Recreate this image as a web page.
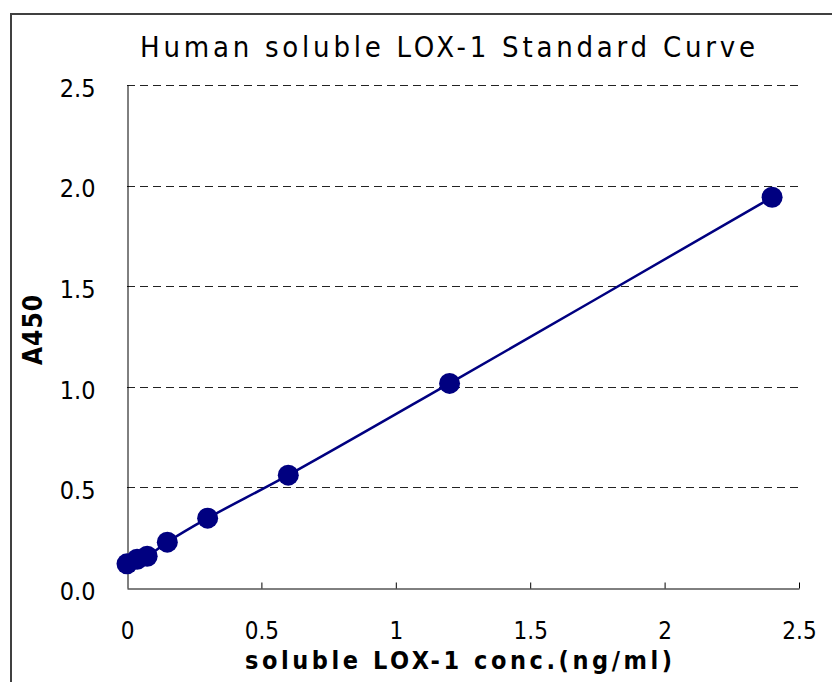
<!DOCTYPE html>
<html>
<head>
<meta charset="utf-8">
<script src="https://cdn.jsdelivr.net/npm/d3@7"></script>
<style>
  body { margin: 0; background: #fff; }
  text { font-family: "DejaVu Sans Condensed", "DejaVu Sans", sans-serif; }
</style>
</head>
<body>
<div id="chart"></div>
<script>
// standard dilution series, ng/ml
const conc = [0, 0.0375, 0.075, 0.15, 0.3, 0.6, 1.2, 2.4]
// absorbance at 450 nm
const a450 = [0.12, 0.143, 0.158, 0.228, 0.347, 0.561, 1.017, 1.942]
const yTicks = [0, 0.5, 1, 1.5, 2, 2.5]
const xTicks = [0, 0.5, 1, 1.5, 2, 2.5]

const title = 'Human soluble LOX-1 Standard Curve'
const xTitle = 'soluble LOX-1 conc.(ng/ml)'
const yTitle = 'A450'

const width = 832
const height = 682
const margin = { top: 85, right: 33, bottom: 94, left: 127 }

const svg = d3
  .select('#chart')
  .append('svg')
  .attr('width', width)
  .attr('height', height)

// outer frame, cut off at the right and bottom
svg
  .append('rect')
  .attr('x', 11)
  .attr('y', 14)
  .attr('width', width + 10)
  .attr('height', height + 10)
  .attr('fill', 'none')
  .attr('stroke', '#404040')
  .attr('stroke-width', 2)

const x = d3
  .scaleLinear()
  .domain([0, 2.5])
  .range([margin.left, width - margin.right])

const y = d3
  .scaleLinear()
  .domain([0, 2.5])
  .range([height - margin.bottom, margin.top])

// dashed gridlines
svg
  .append('g')
  .selectAll('line')
  .data(yTicks.filter(d => d > 0))
  .enter()
  .append('line')
  .attr('x1', x(0))
  .attr('x2', x(2.5))
  .attr('y1', d => Math.round(y(d)) + 0.5)
  .attr('y2', d => Math.round(y(d)) + 0.5)
  .attr('stroke', '#222')
  .attr('stroke-dasharray', '8,5')

// y axis
const yAxis = svg
  .append('g')
  .attr('transform', 'translate(' + (Math.round(x(0)) + 0.5) + ',0)')
  .call(
    d3
      .axisLeft(y)
      .tickValues(yTicks)
      .tickSize(0)
      .tickPadding(32)
      .tickFormat(d3.format('.1f'))
  )
yAxis.select('.domain').attr('stroke', '#000')
yAxis
  .selectAll('text')
  .attr('font-size', 25)
  .attr('dy', '0.45em')
  .attr('fill', '#000')

// x axis, ticks point up into the plot
const xAxis = svg
  .append('g')
  .attr('transform', 'translate(0,' + (Math.round(y(0)) + 0.5) + ')')
  .call(
    d3
      .axisBottom(x)
      .tickValues(xTicks)
      .tickSizeInner(-6)
      .tickSizeOuter(0)
      .tickPadding(33)
      .tickFormat(d => d)
  )
xAxis.select('.domain').attr('stroke', '#000')
xAxis.selectAll('.tick line').attr('stroke', '#000')
xAxis.selectAll('.tick').filter(d => d === 0).select('line').remove()
xAxis
  .selectAll('text')
  .attr('font-size', 24)
  .attr('fill', '#000')

const points = conc.map((c, i) => ({ c: c, a: a450[i] }))

const line = d3
  .line()
  .x(d => x(d.c))
  .y(d => y(d.a))
  .curve(d3.curveCatmullRom.alpha(0.5))

svg
  .append('path')
  .datum(points)
  .attr('d', line)
  .attr('fill', 'none')
  .attr('stroke', '#000080')
  .attr('stroke-width', 2.5)

svg
  .append('g')
  .selectAll('circle')
  .data(points)
  .enter()
  .append('circle')
  .attr('cx', d => x(d.c))
  .attr('cy', d => y(d.a))
  .attr('r', 10.5)
  .attr('fill', '#000080')

// titles
svg
  .append('text')
  .attr('x', 140)
  .attr('y', 57)
  .attr('font-size', 29)
  .attr('textLength', 615)
  .attr('lengthAdjust', 'spacing')
  .text(title)

svg
  .append('text')
  .attr('x', 245)
  .attr('y', 669)
  .attr('font-size', 25)
  .attr('font-weight', 'bold')
  .attr('textLength', 427)
  .attr('lengthAdjust', 'spacing')
  .text(xTitle)

svg
  .append('text')
  .attr('transform', 'translate(42,365) rotate(-90)')
  .attr('font-size', 26)
  .attr('font-weight', 'bold')
  .attr('textLength', 70)
  .attr('lengthAdjust', 'spacing')
  .text(yTitle)
</script>
</body>
</html>
